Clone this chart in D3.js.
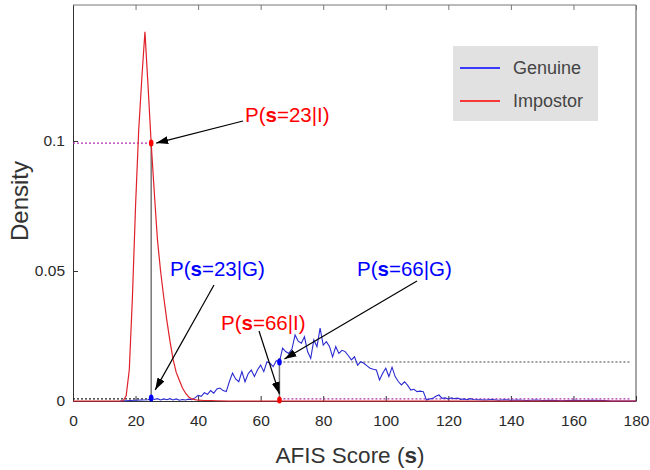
<!DOCTYPE html>
<html><head><meta charset="utf-8">
<script src="https://cdn.jsdelivr.net/npm/d3@7/dist/d3.min.js"></script>
<style>
html,body{margin:0;padding:0;background:#fff;}
svg{display:block;font-family:"Liberation Sans",Arial,Helvetica,sans-serif;}
</style></head>
<body><svg id="chart" width="650" height="470"></svg>
<script>
// ---- data ----
const impostorScores  = [0,10,15,16,17,18,19,20,21,22,23,24,25,26,27,28,29,30,31,32,33,34,35,36,37,38,39,40,42,44,46,50,60,80,100,120,140,160,180];
const impostorDensity = [0,0,0,0,0.002,0.012,0.040,0.075,0.104,0.124,0.142,0.121,0.099,0.080,0.062,0.050,0.040,0.031,0.023,0.016,0.011,0.008,0.005,0.003,0.0015,0.0008,0.0005,0.0003,0.0002,0.0002,0.0001,0,0,0,0,0,0,0,0];

const genuineScores  = [15,20,24,25,26,27,28,29,30,31,32,33,34,35,36,37,38,39,40,41,42,43,44,45,46,47,48,49,50,51,52,53,54,55,56,57,58,59,60,61,62,63,64,65,66,67,68,69,70,71,72,73,74,75,76,77,78,79,80,81,82,83,84,85,86,87,88,89,90,91,92,93,94,95,96,97,98,99,100,101,102,103,104,105,106,107,108,109,110,111,112,113,114,115,116,117,118,119,120,121,122,123,124,125,126,127,128,130,132,134,136,138,140,142,145,148,150,153,156,160,163,166,170,172,180];
const genuineDensity = [0,0.0003,0.0005,0.0012,0.0006,0.0009,0.0004,0.0008,0.0005,0.0009,0.0004,0.0008,0.0003,0.0006,0.0004,0.0007,0.0005,0.0012,0.0022,0.0018,0.0032,0.0026,0.0040,0.0030,0.0046,0.0050,0.0040,0.0036,0.0075,0.0107,0.0085,0.0074,0.0113,0.0074,0.0105,0.0119,0.0094,0.0120,0.0138,0.0113,0.0151,0.0145,0.0132,0.0155,0.0150,0.0203,0.0190,0.0183,0.0200,0.0254,0.0230,0.0222,0.0247,0.0190,0.0164,0.0235,0.0209,0.0280,0.0215,0.0228,0.0210,0.0170,0.0209,0.0183,0.0195,0.0190,0.0175,0.0158,0.0170,0.0138,0.0151,0.0145,0.0135,0.0126,0.0122,0.0119,0.0081,0.0107,0.0126,0.0094,0.0130,0.0094,0.0075,0.0062,0.0074,0.0060,0.0042,0.0045,0.0036,0.0038,0.0036,0.0004,0.0008,0.0010,0.0018,0.0023,0.0010,0.0012,0.0008,0.0012,0.0009,0.0011,0.0006,0.0008,0.0005,0.0009,0.0006,0.0005,0.0004,0.0006,0.0003,0.0005,0.0003,0.0004,0.0002,0.0004,0.0002,0.0003,0.0001,0.0003,0.0002,0.0003,0.0002,0,0];

const xTicks = [0,20,40,60,80,100,120,140,160,180];
const yTicks = [0,0.05,0.1];
const yTickLabels = ["0","0.05","0.1"];
const seriesNames = ["Genuine","Impostor"];
const seriesColors = ["#0000ff","#ff0000"];

// annotation points (order: 23|I, 23|G, 66|G, 66|I)
const annScores   = [25, 25, 66, 66];
const annDensity  = [0.0992, 0.0012, 0.0150, 0.0004];
const annValue    = ["23","23","66","66"];
const annClass    = ["I","G","G","I"];
const annColors   = ["#ff0000","#0000ff","#0000ff","#ff0000"];

// ---- layout ----
const svg = d3.select("#chart");
const L = 73, R = 636, T = 5, B = 401;
const x = d3.scaleLinear().domain([0,180]).range([L,R]);
const y = d3.scaleLinear().domain([0,0.1523]).range([B,T]);

// frame
svg.append("line").attr("x1",L).attr("x2",R).attr("y1",T).attr("y2",T).attr("stroke","#777").attr("stroke-width",1);
svg.append("line").attr("x1",R).attr("x2",R).attr("y1",T).attr("y2",B).attr("stroke","#888").attr("stroke-width",1.5);

// axes
const gx = svg.append("g").attr("transform",`translate(0,${B})`)
  .call(d3.axisBottom(x).tickValues(xTicks).tickSizeInner(-5).tickSizeOuter(0).tickFormat(d3.format("d")));
gx.select(".domain").attr("stroke","#333");
gx.selectAll(".tick line").attr("stroke","#333");
gx.selectAll(".tick text").attr("y",14).attr("dy","0.71em").attr("font-size",15.5).attr("fill","#2a2a2a")
  .attr("font-family","Liberation Sans, Arial, sans-serif");

const gt = svg.append("g").attr("transform",`translate(0,${T})`)
  .call(d3.axisTop(x).tickValues(xTicks).tickSizeInner(-5).tickSizeOuter(0).tickFormat(""));
gt.select(".domain").remove();
gt.selectAll(".tick line").attr("stroke","#777");

const gy = svg.append("g").attr("transform",`translate(${L},0)`)
  .call(d3.axisLeft(y).tickValues(yTicks).tickSizeInner(-5).tickSizeOuter(0).tickFormat((d,i)=>yTickLabels[i]));
gy.select(".domain").attr("stroke","#333");
gy.selectAll(".tick line").attr("stroke","#333");
gy.selectAll(".tick text").attr("x",-8).attr("font-size",15.5).attr("fill","#2a2a2a")
  .attr("font-family","Liberation Sans, Arial, sans-serif");

// reference lines
const pI23 = [annScores[0], annDensity[0]], pG23 = [annScores[1], annDensity[1]];
const pG66 = [annScores[2], annDensity[2]], pI66 = [annScores[3], annDensity[3]];
svg.append("line").attr("x1",x(0)).attr("x2",x(pI23[0])).attr("y1",y(pI23[1])).attr("y2",y(pI23[1]))
  .attr("stroke","#b030b0").attr("stroke-width",1.2).attr("stroke-dasharray","2,2");
svg.append("line").attr("x1",x(0)).attr("x2",x(pG23[0])).attr("y1",y(0.0008)).attr("y2",y(0.0008))
  .attr("stroke","#222").attr("stroke-width",1.2).attr("stroke-dasharray","2,2");
svg.append("line").attr("x1",x(pG66[0])).attr("x2",x(178.5)).attr("y1",y(pG66[1])).attr("y2",y(pG66[1]))
  .attr("stroke","#444").attr("stroke-width",1.2).attr("stroke-dasharray","2,2");
svg.append("line").attr("x1",x(pI66[0])).attr("x2",x(178.5)).attr("y1",y(0.0008)).attr("y2",y(0.0008))
  .attr("stroke","#b030b0").attr("stroke-width",1.2).attr("stroke-dasharray","2,2");
// vertical gray lines
svg.append("line").attr("x1",x(25)).attr("x2",x(25)).attr("y1",y(pI23[1])).attr("y2",B)
  .attr("stroke","#777").attr("stroke-width",1.5);
svg.append("line").attr("x1",x(66)).attr("x2",x(66)).attr("y1",y(pG66[1])-4).attr("y2",B)
  .attr("stroke","#777").attr("stroke-width",1.5);

// curves
const line = d3.line().x(d=>x(d[0])).y(d=>y(d[1]));
svg.append("path").datum(genuineScores.map((s,i)=>[s,genuineDensity[i]]))
  .attr("d",line).attr("fill","none").attr("stroke","#2a2ad0").attr("stroke-width",1.1);
svg.append("path").datum(impostorScores.map((s,i)=>[s,impostorDensity[i]]))
  .attr("d",line).attr("fill","none").attr("stroke","#e0202a").attr("stroke-width",1.2);

// markers
annScores.forEach((s,i)=>{
  svg.append("ellipse").attr("cx",x(s)).attr("cy",y(annDensity[i])).attr("rx",2.3).attr("ry",3.5)
    .attr("fill",annColors[i]);
});

// arrows
const defs = svg.append("defs");
defs.append("marker").attr("id","ah").attr("viewBox","0 0 12 8").attr("refX",12).attr("refY",4)
  .attr("markerWidth",12).attr("markerHeight",8).attr("markerUnits","userSpaceOnUse").attr("orient","auto")
  .append("path").attr("d","M0,0 L12,4 L0,8 Z").attr("fill","#000");

const labelPos = [[245,122],[170,276],[357,276],[221,330]];
const arrowTail = [[243,121],[214,285],[417,281],[259,331]];
const arrowHeadOff = [[5,0],[4,-8],[5,-3],[0,-6]];
annScores.forEach((s,i)=>{
  const hx = x(s)+arrowHeadOff[i][0], hy = y(annDensity[i])+arrowHeadOff[i][1];
  svg.append("line").attr("x1",arrowTail[i][0]).attr("y1",arrowTail[i][1]).attr("x2",hx).attr("y2",hy)
    .attr("stroke","#000").attr("stroke-width",1.2).attr("marker-end","url(#ah)");
  const t = svg.append("text").attr("x",labelPos[i][0]).attr("y",labelPos[i][1])
    .attr("font-size",20.5).attr("fill",annColors[i]);
  t.append("tspan").text("P(");
  t.append("tspan").attr("font-weight","bold").text("s");
  t.append("tspan").text("="+annValue[i]+"|"+annClass[i]+")");
});

// axis titles
const xt = svg.append("text").attr("x",350).attr("y",463).attr("text-anchor","middle")
  .attr("font-size",22.5).attr("fill","#333");
xt.append("tspan").text("AFIS Score (");
xt.append("tspan").attr("font-weight","bold").text("s");
xt.append("tspan").text(")");
svg.append("text").attr("transform","translate(28,201) rotate(-90)").attr("text-anchor","middle")
  .attr("font-size",24).attr("fill","#333").text("Density");

// legend
const lg = svg.append("g");
lg.append("rect").attr("x",453).attr("y",46).attr("width",145).attr("height",75).attr("fill","#e1e1e1");
seriesNames.forEach((n,i)=>{
  const yy = 68 + i*33;
  lg.append("line").attr("x1",460).attr("x2",500).attr("y1",yy).attr("y2",yy)
    .attr("stroke",seriesColors[i]).attr("stroke-width",1.5);
  lg.append("text").attr("x",513).attr("y",yy).attr("dy","0.35em").attr("font-size",18)
    .attr("fill","#444").text(n);
});
</script></body></html>
